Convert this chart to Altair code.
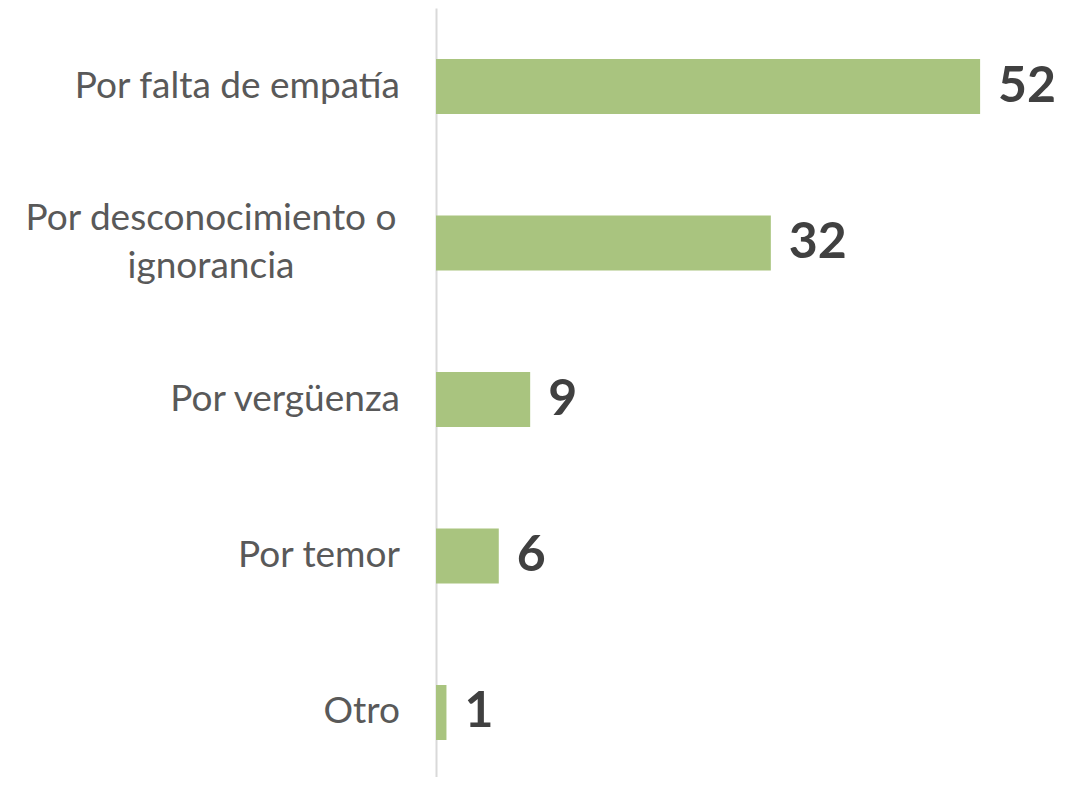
import altair as alt
import pandas as pd

categories = ["Por falta de empatía", "Por desconocimiento o ignorancia", "Por vergüenza", "Por temor", "Otro"]
display_labels = ["Por falta de empatía", "Por desconocimiento o\nignorancia", "Por vergüenza", "Por temor", "Otro"]
values = [52, 32, 9, 6, 1]

df = pd.DataFrame({
    "cat": categories,
    "label": display_labels,
    "value": values,
})
df["multi"] = df["label"].str.contains("\n").astype(int)

W = 632
H = 769

y_enc = alt.Y(
    "cat:N",
    sort=categories,
    title=None,
    axis=alt.Axis(labels=False, ticks=False, title=None, domain=True,
                  domainColor="#d9d9d9", domainWidth=2, grid=False),
    scale=alt.Scale(range=[0, 783], paddingInner=0.6486, paddingOuter=0.326),
)
y_plain = alt.Y("cat:N", sort=categories, title=None)
x_enc = alt.X("value:Q", scale=alt.Scale(domain=[0, 60.4], nice=False), axis=None)

base = alt.Chart(df)

bars = base.mark_bar(color="#A9C47F").encode(x=x_enc, y=y_enc)

nums = base.mark_text(
    align="left", baseline="middle", dx=18, font="Lato", fontWeight="bold",
    fontSize=50, color="#404040"
).encode(x=alt.X("value:Q"), y=y_plain, text=alt.Text("value:Q"))

single = base.transform_filter("datum.multi == 0").mark_text(
    align="right", baseline="middle", font="Lato", fontSize=37, color="#595959"
).encode(x=alt.value(-36), y=y_plain, text="label:N")

multi = base.transform_filter("datum.multi == 1").mark_text(
    align="center", baseline="middle", font="Lato", fontSize=37, color="#595959",
    lineBreak="\n", lineHeight=48, dy=-24
).encode(x=alt.value(-225), y=y_plain, text="label:N")

chart = alt.layer(bars, nums, single, multi).properties(
    width=W,
    height=H,
    background="white",
    autosize=alt.AutoSizeParams(type="none"),
    padding={"left": 428, "top": 0, "right": 0, "bottom": 0},
).configure_view(stroke=None)

chart.save("out.html", embed_options={"renderer": "svg", "actions": False})
